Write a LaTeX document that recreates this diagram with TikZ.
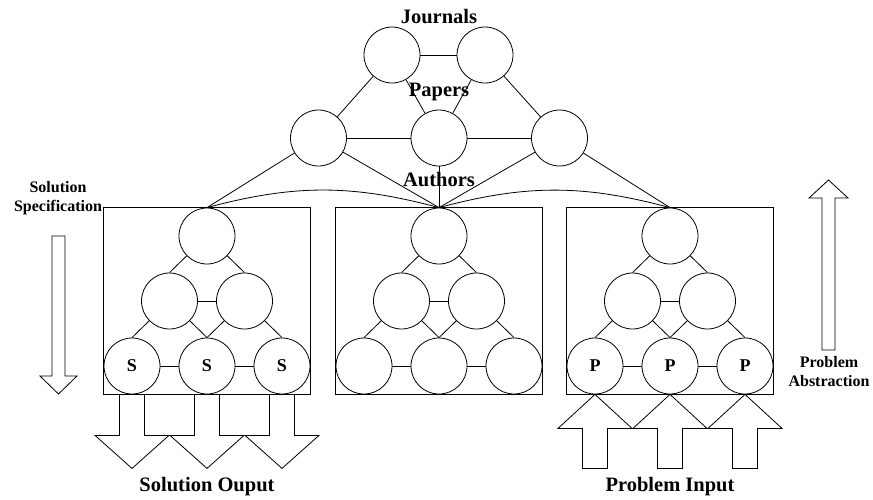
\documentclass[tikz,border=0pt]{standalone}
\usepackage{fontspec}
\setmainfont{Liberation Serif}
\usetikzlibrary{positioning,%
                fit}

\begin{document}
\begin{tikzpicture}[x=1pt,y=-1pt,line width=0.8pt]
  \tikzset{node distance = 65pt and 37.5pt, on grid}
  \tikzset{VertexStyle/.style = {circle,draw,minimum size=56pt,inner sep=0pt,
                                 font=\bfseries\fontsize{18}{18}\selectfont}}
  \tikzset{LabelStyle/.style = {font=\bfseries\fontsize{20.5}{22}\selectfont}}
  \tikzset{SideStyle/.style = {align=center,font=\bfseries\fontsize{16}{19}\selectfont}}
  \tikzset{BoxStyle/.style = {draw,inner sep=0pt}}
  \useasboundingbox (0,0) rectangle (873,499);

  % journals
  \node[VertexStyle] (j1) at (392,55) {};
  \node[VertexStyle, right=93pt of j1] (j2) {};
  % papers
  \node[VertexStyle] (p2) at (439,138) {};
  \node[VertexStyle, left=120.5pt of p2] (p1) {};
  \node[VertexStyle, right=120.5pt of p2] (p3) {};

  % authors, one tree per box
  \foreach \t/\x/\s in {l/207/S, m/439/{}, r/670/P}{
    \node[VertexStyle] (\t1) at (\x,236) {};
    \node[VertexStyle, below left=of \t1] (\t2) {};
    \node[VertexStyle, below right=of \t1] (\t3) {};
    \node[VertexStyle, below left=of \t2] (\t4) {\s};
    \node[VertexStyle, below right=of \t2] (\t5) {\s};
    \node[VertexStyle, below right=of \t3] (\t6) {\s};
    \node[BoxStyle, fit=(\t1)(\t4)(\t6)] (\t box) {};
    \draw (\t1) -- (\t2.north);
    \draw (\t1) -- (\t3.north);
    \draw (\t2) -- (\t3);
    \draw (\t2) -- (\t4.north);
    \draw (\t2) -- (\t5.north);
    \draw (\t3) -- (\t5.north);
    \draw (\t3) -- (\t6.north);
    \draw (\t4) -- (\t5);
    \draw (\t5) -- (\t6);
  }

  \draw (j1) -- (j2);
  \draw (j1) -- (p1);
  \draw (j1) -- (p2);
  \draw (j2) -- (p2);
  \draw (j2) -- (p3);
  \draw (p1) -- (p2);
  \draw (p2) -- (p3);
  \draw (p1) -- (l1.north);
  \draw (p1) -- (m1.north);
  \draw (p2) -- (m1.north);
  \draw (p3) -- (m1.north);
  \draw (p3) -- (r1.north);
  \draw (l1.north) to[bend left=15] (m1.north);
  \draw (r1.north) to[bend right=15] (m1.north);

  % output and input arrows
  \foreach \n in {l4,l5,l6}
    \draw (\n.south) ++(-12.5,0) -- ++(0,41) -- ++(-24.5,0) -- ++(37,33)
          -- ++(37,-33) -- ++(-24.5,0) -- ++(0,-41);
  \foreach \n in {r4,r5,r6}
    \draw (\n.south) ++(-12.5,74) -- ++(0,-40) -- ++(-24.5,0) -- ++(37,-34)
          -- ++(37,34) -- ++(-24.5,0) -- ++(0,40) -- cycle;

  % side arrows
  \draw (52,236) -- (52,376) -- (40,376) -- (58.5,394) -- (77,376)
        -- (65,376) -- (65,236) -- cycle;
  \draw (822,350) -- (822,198) -- (809,198) -- (828.5,180) -- (848,198)
        -- (835,198) -- (835,350) -- cycle;

  % labels
  \node[LabelStyle] (journals) at (439,17) {Journals};
  \node[LabelStyle] (papers) at (439,92) {Papers};
  \node[LabelStyle] (authors) at (439,180) {Authors};
  \node[LabelStyle] (solout) at (207,487) {Solution Ouput};
  \node[LabelStyle] (probin) at (670,487) {Problem Input};
  \node[SideStyle] (solspec) at (58,198) {Solution\\Specification};
  \node[SideStyle] (probabs) at (829,372) {Problem\\Abstraction};
\end{tikzpicture}
\end{document}
